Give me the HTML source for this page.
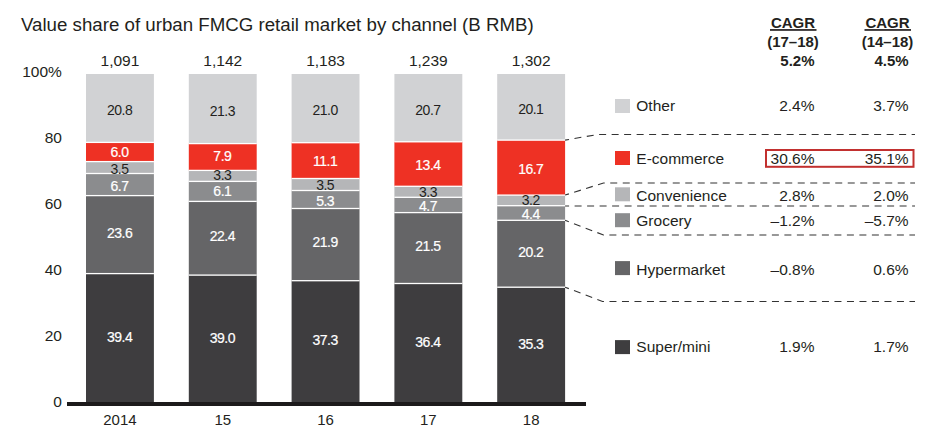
<!DOCTYPE html><html><head><meta charset="utf-8"><style>html,body{margin:0;padding:0;background:#fff;width:937px;height:435px;overflow:hidden}svg{display:block}text{font-family:"Liberation Sans",sans-serif;fill:#231f20}</style></head><body>
<svg width="937" height="435" viewBox="0 0 937 435">
<rect width="937" height="435" fill="#fff"/>
<text x="21" y="30.7" font-size="18.7">Value share of urban FMCG retail market by channel (B RMB)</text>
<text x="61.9" y="77.00" font-size="15.5" text-anchor="end">100%</text>
<text x="61.9" y="142.98" font-size="15.5" text-anchor="end">80</text>
<text x="61.9" y="208.96" font-size="15.5" text-anchor="end">60</text>
<text x="61.9" y="274.94" font-size="15.5" text-anchor="end">40</text>
<text x="61.9" y="340.92" font-size="15.5" text-anchor="end">20</text>
<text x="61.9" y="406.90" font-size="15.5" text-anchor="end">0</text>
<rect x="86.00" y="273.60" width="67.90" height="130.00" fill="#3e3d3f"/>
<rect x="86.00" y="195.60" width="67.90" height="78.00" fill="#656567"/>
<rect x="86.00" y="173.50" width="67.90" height="22.10" fill="#8b8c8e"/>
<rect x="86.00" y="161.60" width="67.90" height="11.90" fill="#b5b6b8"/>
<rect x="86.00" y="142.40" width="67.90" height="19.20" fill="#ee3124"/>
<rect x="86.00" y="74.00" width="67.90" height="68.40" fill="#d1d2d4"/>
<rect x="86.00" y="272.95" width="67.90" height="1.3" fill="#fff"/>
<rect x="86.00" y="194.95" width="67.90" height="1.3" fill="#fff"/>
<rect x="86.00" y="172.85" width="67.90" height="1.3" fill="#fff"/>
<rect x="86.00" y="160.95" width="67.90" height="1.3" fill="#fff"/>
<rect x="86.00" y="141.75" width="67.90" height="1.3" fill="#fff"/>
<text x="119.95" y="65.8" font-size="15.5" text-anchor="middle">1,091</text>
<text x="119.95" y="424.7" font-size="15" text-anchor="middle">2014</text>
<text x="119.55" y="341.90" font-size="14" text-anchor="middle" letter-spacing="-0.5" style="fill:#fff;stroke:#fff;stroke-width:0.2px;">39.4</text>
<text x="119.55" y="238.10" font-size="14" text-anchor="middle" letter-spacing="-0.5" style="fill:#fff;stroke:#fff;stroke-width:0.2px;">23.6</text>
<text x="119.55" y="190.60" font-size="14" text-anchor="middle" letter-spacing="-0.5" style="fill:#fff;stroke:#fff;stroke-width:0.2px;">6.7</text>
<text x="119.55" y="173.90" font-size="14" text-anchor="middle" letter-spacing="-0.5" style="fill:#231f20;">3.5</text>
<text x="119.55" y="157.10" font-size="14" text-anchor="middle" letter-spacing="-0.5" style="fill:#fff;stroke:#fff;stroke-width:0.2px;">6.0</text>
<text x="119.55" y="115.00" font-size="14" text-anchor="middle" letter-spacing="-0.5" style="fill:#231f20;">20.8</text>
<rect x="188.80" y="275.10" width="67.90" height="128.50" fill="#3e3d3f"/>
<rect x="188.80" y="201.40" width="67.90" height="73.70" fill="#656567"/>
<rect x="188.80" y="181.40" width="67.90" height="20.00" fill="#8b8c8e"/>
<rect x="188.80" y="170.40" width="67.90" height="11.00" fill="#b5b6b8"/>
<rect x="188.80" y="143.60" width="67.90" height="26.80" fill="#ee3124"/>
<rect x="188.80" y="74.00" width="67.90" height="69.60" fill="#d1d2d4"/>
<rect x="188.80" y="274.45" width="67.90" height="1.3" fill="#fff"/>
<rect x="188.80" y="200.75" width="67.90" height="1.3" fill="#fff"/>
<rect x="188.80" y="180.75" width="67.90" height="1.3" fill="#fff"/>
<rect x="188.80" y="169.75" width="67.90" height="1.3" fill="#fff"/>
<rect x="188.80" y="142.95" width="67.90" height="1.3" fill="#fff"/>
<text x="222.75" y="65.8" font-size="15.5" text-anchor="middle">1,142</text>
<text x="222.75" y="424.7" font-size="15" text-anchor="middle">15</text>
<text x="222.35" y="343.10" font-size="14" text-anchor="middle" letter-spacing="-0.5" style="fill:#fff;stroke:#fff;stroke-width:0.2px;">39.0</text>
<text x="222.35" y="241.20" font-size="14" text-anchor="middle" letter-spacing="-0.5" style="fill:#fff;stroke:#fff;stroke-width:0.2px;">22.4</text>
<text x="222.35" y="196.30" font-size="14" text-anchor="middle" letter-spacing="-0.5" style="fill:#fff;stroke:#fff;stroke-width:0.2px;">6.1</text>
<text x="222.35" y="179.80" font-size="14" text-anchor="middle" letter-spacing="-0.5" style="fill:#231f20;">3.3</text>
<text x="222.35" y="160.80" font-size="14" text-anchor="middle" letter-spacing="-0.5" style="fill:#fff;stroke:#fff;stroke-width:0.2px;">7.9</text>
<text x="222.35" y="116.00" font-size="14" text-anchor="middle" letter-spacing="-0.5" style="fill:#231f20;">21.3</text>
<rect x="291.60" y="280.70" width="67.90" height="122.90" fill="#3e3d3f"/>
<rect x="291.60" y="208.50" width="67.90" height="72.20" fill="#656567"/>
<rect x="291.60" y="190.50" width="67.90" height="18.00" fill="#8b8c8e"/>
<rect x="291.60" y="178.50" width="67.90" height="12.00" fill="#b5b6b8"/>
<rect x="291.60" y="142.70" width="67.90" height="35.80" fill="#ee3124"/>
<rect x="291.60" y="74.00" width="67.90" height="68.70" fill="#d1d2d4"/>
<rect x="291.60" y="280.05" width="67.90" height="1.3" fill="#fff"/>
<rect x="291.60" y="207.85" width="67.90" height="1.3" fill="#fff"/>
<rect x="291.60" y="189.85" width="67.90" height="1.3" fill="#fff"/>
<rect x="291.60" y="177.85" width="67.90" height="1.3" fill="#fff"/>
<rect x="291.60" y="142.05" width="67.90" height="1.3" fill="#fff"/>
<text x="325.55" y="65.8" font-size="15.5" text-anchor="middle">1,183</text>
<text x="325.55" y="424.7" font-size="15" text-anchor="middle">16</text>
<text x="325.15" y="344.70" font-size="14" text-anchor="middle" letter-spacing="-0.5" style="fill:#fff;stroke:#fff;stroke-width:0.2px;">37.3</text>
<text x="325.15" y="247.10" font-size="14" text-anchor="middle" letter-spacing="-0.5" style="fill:#fff;stroke:#fff;stroke-width:0.2px;">21.9</text>
<text x="325.15" y="206.40" font-size="14" text-anchor="middle" letter-spacing="-0.5" style="fill:#fff;stroke:#fff;stroke-width:0.2px;">5.3</text>
<text x="325.15" y="190.30" font-size="14" text-anchor="middle" letter-spacing="-0.5" style="fill:#231f20;">3.5</text>
<text x="325.15" y="165.90" font-size="14" text-anchor="middle" letter-spacing="-0.5" style="fill:#fff;stroke:#fff;stroke-width:0.2px;">11.1</text>
<text x="325.15" y="114.70" font-size="14" text-anchor="middle" letter-spacing="-0.5" style="fill:#231f20;">21.0</text>
<rect x="394.40" y="283.50" width="67.90" height="120.10" fill="#3e3d3f"/>
<rect x="394.40" y="212.60" width="67.90" height="70.90" fill="#656567"/>
<rect x="394.40" y="197.30" width="67.90" height="15.30" fill="#8b8c8e"/>
<rect x="394.40" y="186.30" width="67.90" height="11.00" fill="#b5b6b8"/>
<rect x="394.40" y="141.80" width="67.90" height="44.50" fill="#ee3124"/>
<rect x="394.40" y="74.00" width="67.90" height="67.80" fill="#d1d2d4"/>
<rect x="394.40" y="282.85" width="67.90" height="1.3" fill="#fff"/>
<rect x="394.40" y="211.95" width="67.90" height="1.3" fill="#fff"/>
<rect x="394.40" y="196.65" width="67.90" height="1.3" fill="#fff"/>
<rect x="394.40" y="185.65" width="67.90" height="1.3" fill="#fff"/>
<rect x="394.40" y="141.15" width="67.90" height="1.3" fill="#fff"/>
<text x="428.35" y="65.8" font-size="15.5" text-anchor="middle">1,239</text>
<text x="428.35" y="424.7" font-size="15" text-anchor="middle">17</text>
<text x="427.95" y="346.80" font-size="14" text-anchor="middle" letter-spacing="-0.5" style="fill:#fff;stroke:#fff;stroke-width:0.2px;">36.4</text>
<text x="427.95" y="251.00" font-size="14" text-anchor="middle" letter-spacing="-0.5" style="fill:#fff;stroke:#fff;stroke-width:0.2px;">21.5</text>
<text x="427.95" y="210.80" font-size="14" text-anchor="middle" letter-spacing="-0.5" style="fill:#fff;stroke:#fff;stroke-width:0.2px;">4.7</text>
<text x="427.95" y="196.60" font-size="14" text-anchor="middle" letter-spacing="-0.5" style="fill:#231f20;">3.3</text>
<text x="427.95" y="170.20" font-size="14" text-anchor="middle" letter-spacing="-0.5" style="fill:#fff;stroke:#fff;stroke-width:0.2px;">13.4</text>
<text x="427.95" y="115.20" font-size="14" text-anchor="middle" letter-spacing="-0.5" style="fill:#231f20;">20.7</text>
<rect x="497.20" y="287.20" width="67.90" height="116.40" fill="#3e3d3f"/>
<rect x="497.20" y="220.30" width="67.90" height="66.90" fill="#656567"/>
<rect x="497.20" y="205.70" width="67.90" height="14.60" fill="#8b8c8e"/>
<rect x="497.20" y="195.10" width="67.90" height="10.60" fill="#b5b6b8"/>
<rect x="497.20" y="140.10" width="67.90" height="55.00" fill="#ee3124"/>
<rect x="497.20" y="74.00" width="67.90" height="66.10" fill="#d1d2d4"/>
<rect x="497.20" y="286.55" width="67.90" height="1.3" fill="#fff"/>
<rect x="497.20" y="219.65" width="67.90" height="1.3" fill="#fff"/>
<rect x="497.20" y="205.05" width="67.90" height="1.3" fill="#fff"/>
<rect x="497.20" y="194.45" width="67.90" height="1.3" fill="#fff"/>
<rect x="497.20" y="139.45" width="67.90" height="1.3" fill="#fff"/>
<text x="531.15" y="65.8" font-size="15.5" text-anchor="middle">1,302</text>
<text x="531.15" y="424.7" font-size="15" text-anchor="middle">18</text>
<text x="530.75" y="348.90" font-size="14" text-anchor="middle" letter-spacing="-0.5" style="fill:#fff;stroke:#fff;stroke-width:0.2px;">35.3</text>
<text x="530.75" y="257.00" font-size="14" text-anchor="middle" letter-spacing="-0.5" style="fill:#fff;stroke:#fff;stroke-width:0.2px;">20.2</text>
<text x="530.75" y="218.80" font-size="14" text-anchor="middle" letter-spacing="-0.5" style="fill:#fff;stroke:#fff;stroke-width:0.2px;">4.4</text>
<text x="530.75" y="204.80" font-size="14" text-anchor="middle" letter-spacing="-0.5" style="fill:#231f20;">3.2</text>
<text x="530.75" y="173.90" font-size="14" text-anchor="middle" letter-spacing="-0.5" style="fill:#fff;stroke:#fff;stroke-width:0.2px;">16.7</text>
<text x="530.75" y="114.10" font-size="14" text-anchor="middle" letter-spacing="-0.5" style="fill:#231f20;">20.1</text>
<rect x="67" y="402" width="519" height="4" fill="#1c1a1b"/>
<path d="M565.1 140.1 L598 134.5 L915 134.5" stroke="#333" stroke-width="1.1" fill="none" stroke-dasharray="7 5.5" stroke-dashoffset="3"/>
<path d="M565.1 195.1 L603.5 183 L915 183" stroke="#333" stroke-width="1.1" fill="none" stroke-dasharray="7 5.5" stroke-dashoffset="3"/>
<path d="M565.1 206.0 L915 206" stroke="#333" stroke-width="1.1" fill="none" stroke-dasharray="7 5.5" stroke-dashoffset="3"/>
<path d="M565.1 220.3 L603.5 235 L915 235" stroke="#333" stroke-width="1.1" fill="none" stroke-dasharray="7 5.5" stroke-dashoffset="3"/>
<path d="M565.1 287.2 L602.5 301.5 L915 301.5" stroke="#333" stroke-width="1.1" fill="none" stroke-dasharray="7 5.5" stroke-dashoffset="3"/>
<rect x="615" y="99.0" width="15" height="14" fill="#d1d2d4"/>
<text x="636.3" y="110.9" font-size="15.5">Other</text>
<text x="814.5" y="110.9" font-size="15.5" text-anchor="end">2.4%</text>
<text x="908.6" y="110.9" font-size="15.5" text-anchor="end">3.7%</text>
<rect x="615" y="151.0" width="15" height="14" fill="#ee3124"/>
<text x="636.3" y="163.6" font-size="15.5">E-commerce</text>
<text x="814.5" y="163.6" font-size="15.5" text-anchor="end">30.6%</text>
<text x="908.6" y="163.6" font-size="15.5" text-anchor="end">35.1%</text>
<rect x="615" y="187.3" width="15" height="14" fill="#b5b6b8"/>
<text x="636.3" y="200.9" font-size="15.5">Convenience</text>
<text x="814.5" y="200.9" font-size="15.5" text-anchor="end">2.8%</text>
<text x="908.6" y="200.9" font-size="15.5" text-anchor="end">2.0%</text>
<rect x="615" y="213.2" width="15" height="14" fill="#8b8c8e"/>
<text x="636.3" y="226.1" font-size="15.5">Grocery</text>
<text x="814.5" y="226.1" font-size="15.5" text-anchor="end">–1.2%</text>
<text x="908.6" y="226.1" font-size="15.5" text-anchor="end">–5.7%</text>
<rect x="615" y="261.1" width="15" height="14" fill="#656567"/>
<text x="636.3" y="274.8" font-size="15.5">Hypermarket</text>
<text x="814.5" y="274.8" font-size="15.5" text-anchor="end">–0.8%</text>
<text x="908.6" y="274.8" font-size="15.5" text-anchor="end">0.6%</text>
<rect x="615" y="340.1" width="15" height="14" fill="#3e3d3f"/>
<text x="636.3" y="351.6" font-size="15.5">Super/mini</text>
<text x="814.5" y="351.6" font-size="15.5" text-anchor="end">1.9%</text>
<text x="908.6" y="351.6" font-size="15.5" text-anchor="end">1.7%</text>
<rect x="766" y="150" width="147.5" height="16.8" fill="none" stroke="#c2302f" stroke-width="2"/>
<text x="793.0" y="27.8" font-size="15" font-weight="bold" text-anchor="middle">CAGR</text>
<rect x="770.0" y="29.1" width="46.5" height="1.7" fill="#231f20"/>
<text x="793.0" y="46.5" font-size="15" font-weight="bold" text-anchor="middle">(17–18)</text>
<text x="814.5" y="65.8" font-size="15" font-weight="bold" text-anchor="end">5.2%</text>
<text x="887.5" y="27.8" font-size="15" font-weight="bold" text-anchor="middle">CAGR</text>
<rect x="864.5" y="29.1" width="46.5" height="1.7" fill="#231f20"/>
<text x="887.5" y="46.5" font-size="15" font-weight="bold" text-anchor="middle">(14–18)</text>
<text x="908.6" y="65.8" font-size="15" font-weight="bold" text-anchor="end">4.5%</text>
</svg></body></html>
